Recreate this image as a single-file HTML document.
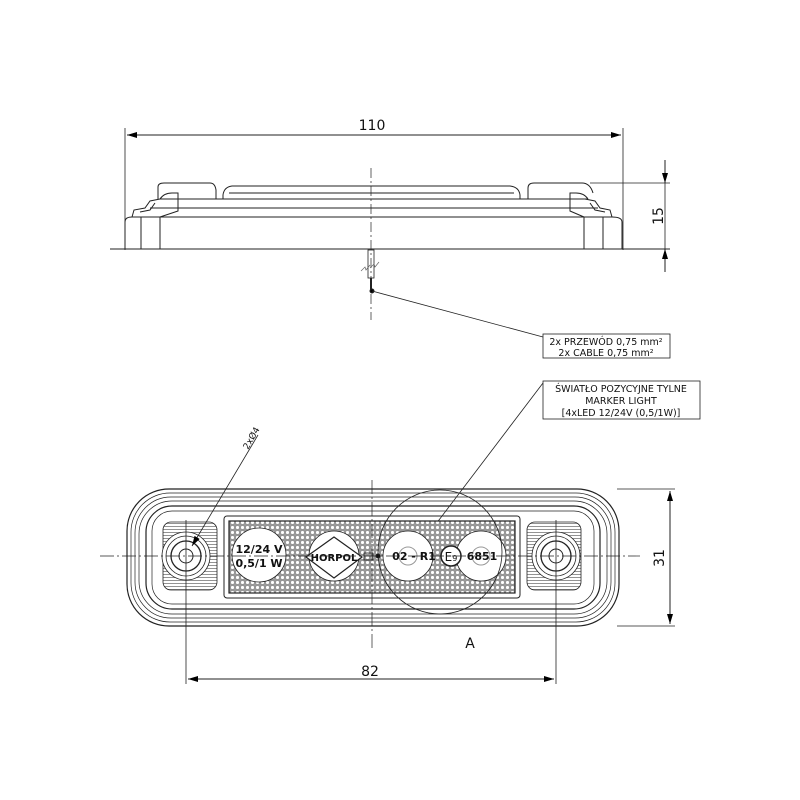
<!DOCTYPE html>
<html><head><meta charset="utf-8"><style>html,body{margin:0;padding:0;background:#fff}svg{display:block}text{font-family:"DejaVu Sans","Liberation Sans",sans-serif;fill:#111}</style></head>
<body>
<svg width="800" height="800" viewBox="0 0 800 800" xmlns="http://www.w3.org/2000/svg">
<defs>
<marker id="ar" viewBox="0 0 10 6" refX="10" refY="3" markerWidth="14" markerHeight="6" markerUnits="userSpaceOnUse" orient="auto-start-reverse"><path d="M0,0L10,3L0,6z" fill="#000"/></marker>
<pattern id="dots" width="5" height="5" patternUnits="userSpaceOnUse"><rect width="5" height="5" fill="#9a9a9a"/><circle cx="2.5" cy="2.5" r="1.9" fill="#fff" stroke="#555" stroke-width="0.3"/></pattern>
<pattern id="hat" width="3" height="3" patternUnits="userSpaceOnUse"><rect width="3" height="3" fill="#fff"/><line x1="0" y1="1.5" x2="3" y2="1.5" stroke="#777" stroke-width="0.8"/></pattern>
</defs>
<g fill="none" stroke="#222" stroke-width="1">
<!-- TOP VIEW -->
<line x1="125" y1="128" x2="125" y2="250" stroke-width="0.8"/>
<line x1="623" y1="128" x2="623" y2="250" stroke-width="0.8"/>
<line x1="127" y1="135" x2="621" y2="135" marker-start="url(#ar)" marker-end="url(#ar)"/>
<path d="M125,249 L125,222 Q125,217 132,217 L612,217 Q622,217 622,222 L622,249 Z"/>
<line x1="110" y1="249" x2="670" y2="249" stroke-width="1"/>
<line x1="141" y1="217" x2="141" y2="249"/><line x1="160" y1="217" x2="160" y2="249"/>
<line x1="584" y1="217" x2="584" y2="249"/><line x1="603" y1="217" x2="603" y2="249"/>
<path d="M132,217 L134,210 L145,208 L150,201 L160,199 M140,212 L150,210 L155,203"/>
<path d="M612,217 L610,210 L600,208 L595,201 L585,199 M605,212 L595,210 L590,203"/>
<line x1="150" y1="208" x2="598" y2="208"/><line x1="160" y1="199" x2="588" y2="199"/>
<path d="M160,199 Q164,193 172,193 L178,193 L178,211 L160,217"/>
<path d="M588,199 Q584,193 576,193 L570,193 L570,211 L584,217"/>
<path d="M158,199 L158,187 Q158,183 164,183 L210,183 Q215,183 216,190 L216,199"/>
<path d="M528,199 L528,188 Q528,183 534,183 L582,183 Q590,183 593,193"/>
<path d="M223,199 L223,195 Q224,187 232,186 L510,186 Q519,187 520,195 L520,199"/>
<line x1="229" y1="193" x2="514" y2="193"/>
<line x1="590" y1="183" x2="670" y2="183" stroke-width="0.8"/>
<line x1="665" y1="160" x2="665" y2="183" marker-end="url(#ar)"/>
<line x1="665" y1="272" x2="665" y2="249" marker-end="url(#ar)"/>
<line x1="665" y1="183" x2="665" y2="249" stroke-width="0.8"/>
<text x="0" y="0" font-size="14" transform="translate(663,216) rotate(-90)" text-anchor="middle" stroke="none">15</text>
<text x="372" y="130" font-size="14" text-anchor="middle" stroke="none">110</text>
<line x1="371" y1="168" x2="371" y2="320" stroke-width="0.7" stroke-dasharray="10,3,2,3"/>
<rect x="368" y="250" width="6" height="28" stroke-width="0.8"/>
<path d="M361,271 l4,-4 l1,3 l4,-5 M370,268 l4,-4 l1,3 l4,-5" stroke-width="0.7" stroke="#666"/>
<line x1="371" y1="278" x2="371" y2="292" stroke-width="2"/>
<circle cx="372" cy="291" r="2" fill="#000"/>
<line x1="372" y1="291" x2="543" y2="337" stroke-width="0.8"/>
<rect x="543" y="334" width="127" height="24" stroke-width="0.8"/>
<text x="606" y="345" font-size="9.5" text-anchor="middle" stroke="none">2x PRZEWÓD 0,75 mm²</text>
<text x="606" y="356" font-size="9.5" text-anchor="middle" stroke="none">2x CABLE 0,75 mm²</text>
<rect x="543" y="381" width="157" height="38" stroke-width="0.8"/>
<text x="621" y="392" font-size="9.5" text-anchor="middle" stroke="none">ŚWIATŁO POZYCYJNE TYLNE</text>
<text x="621" y="404" font-size="9.5" text-anchor="middle" stroke="none">MARKER LIGHT</text>
<text x="621" y="416" font-size="9.5" text-anchor="middle" stroke="none">[4xLED 12/24V (0,5/1W)]</text>
<line x1="543" y1="383" x2="420" y2="545" stroke-width="0.8"/>
<!-- FRONT VIEW -->
<line x1="617" y1="489" x2="675" y2="489" stroke-width="0.8"/>
<line x1="617" y1="626" x2="675" y2="626" stroke-width="0.8"/>
<line x1="670" y1="491" x2="670" y2="624" marker-start="url(#ar)" marker-end="url(#ar)"/>
<text transform="translate(664,558) rotate(-90)" font-size="14" text-anchor="middle" stroke="none">31</text>
<rect x="127" y="489" width="492" height="137" rx="42" stroke-width="1.2"/>
<rect x="131" y="493" width="484" height="129" rx="39" stroke-width="0.7"/>
<rect x="135" y="497" width="476" height="121" rx="36" stroke-width="0.7"/>
<rect x="139" y="501" width="468" height="113" rx="33" stroke-width="0.7"/>
<rect x="146" y="506" width="454" height="103" rx="26" stroke-width="1.2"/>
<rect x="152" y="511" width="442" height="93" rx="20" stroke-width="0.7"/>
<rect x="163" y="522" width="54" height="68" rx="8" fill="url(#hat)" stroke-width="0.8"/>
<rect x="527" y="522" width="54" height="68" rx="8" fill="url(#hat)" stroke-width="0.8"/>
<circle cx="186" cy="556" r="24" fill="#fff" stroke-width="0.8"/>
<circle cx="186" cy="556" r="20" stroke-width="0.8"/>
<circle cx="186" cy="556" r="15" stroke-width="1.3"/>
<circle cx="186" cy="556" r="7"/>
<circle cx="556" cy="556" r="24" fill="#fff" stroke-width="0.8"/>
<circle cx="556" cy="556" r="20" stroke-width="0.8"/>
<circle cx="556" cy="556" r="15" stroke-width="1.3"/>
<circle cx="556" cy="556" r="7"/>
<rect x="224" y="516" width="296" height="82" rx="3" stroke-width="1"/>
<rect x="229" y="521" width="286" height="72" fill="url(#dots)" stroke-width="1.2"/>
<circle cx="259" cy="555" r="27" fill="#fff" stroke-width="0.8"/>
<circle cx="334" cy="556" r="25" fill="#fff" stroke-width="0.8"/>
<circle cx="334" cy="556" r="9" stroke="#999"/>
<circle cx="408" cy="556" r="25" fill="#fff" stroke-width="0.8"/>
<circle cx="408" cy="556" r="9" stroke="#999"/>
<circle cx="481" cy="556" r="25" fill="#fff" stroke-width="0.8"/>
<circle cx="481" cy="556" r="9" stroke="#999"/>
<path d="M306,557 L334,537 L362,557 L334,578 Z" stroke-width="1.2" fill="#fff"/>
<rect x="364" y="553" width="9" height="7" stroke-width="0.8"/>
<circle cx="378" cy="556" r="2" fill="#000"/>
<circle cx="451" cy="556" r="10" stroke-width="1.5" fill="#fff"/>
<text x="259" y="553" font-size="11" text-anchor="middle" stroke="none" font-weight="bold">12/24 V</text>
<text x="259" y="567" font-size="11" text-anchor="middle" stroke="none" font-weight="bold">0,5/1 W</text>
<text x="334" y="561" font-size="10" text-anchor="middle" stroke="none" font-weight="bold">HORPOL</text>
<text x="414" y="560" font-size="11" text-anchor="middle" stroke="none" font-weight="bold">02 - R1</text>
<text x="451" y="561" font-size="12" text-anchor="middle" stroke="none">E<tspan font-size="8">9</tspan></text>
<text x="482" y="560" font-size="11" text-anchor="middle" stroke="none" font-weight="bold">6851</text>
<circle cx="440" cy="552" r="62" stroke-width="0.8"/>
<line x1="100" y1="556" x2="640" y2="556" stroke-width="0.7" stroke-dasharray="14,3,2,3"/>
<line x1="372" y1="480" x2="372" y2="648" stroke-width="0.7" stroke-dasharray="14,3,2,3"/>
<line x1="186" y1="520" x2="186" y2="684" stroke-width="0.8"/>
<line x1="556" y1="520" x2="556" y2="684" stroke-width="0.8"/>
<line x1="188" y1="679" x2="554" y2="679" marker-start="url(#ar)" marker-end="url(#ar)"/>
<text x="370" y="676" font-size="14" text-anchor="middle" stroke="none">82</text>
<text x="470" y="648" font-size="14" text-anchor="middle" stroke="none">A</text>
<line x1="258" y1="435" x2="192" y2="546" stroke-width="0.8" marker-end="url(#ar)"/>
<text transform="translate(248,450) rotate(-60)" font-size="9" stroke="none">2xØ4</text>
</g>
</svg>
</body></html>
